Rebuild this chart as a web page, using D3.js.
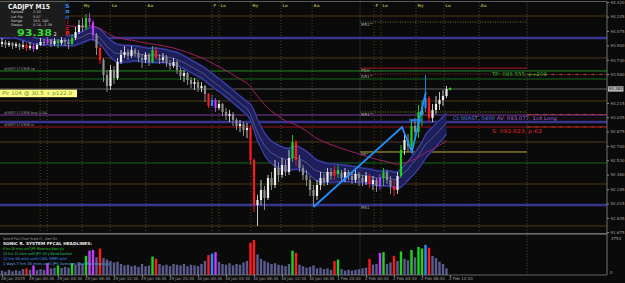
<!DOCTYPE html>
<html>
<head>
<meta charset="utf-8">
<script src="https://cdn.jsdelivr.net/npm/d3@7"></script>
<style>
html, body { margin: 0; padding: 0; background: #0a0a0a; }
svg { display: block; font-family: "DejaVu Sans", sans-serif; }
</style>
</head>
<body>
<svg width="625" height="283"></svg>
<script>
// CADJPY M15 - bars (one entry per two M15 bars)
const open0 = 93.919;
const closes = [
  93.943, 93.907, 93.931, 93.895, 93.919, 93.883, 93.907, 93.871, 93.895, 93.859,
  93.907, 93.943, 93.931, 93.967, 93.919, 93.955, 93.931, 93.967, 93.943, 93.919,
  93.990, 94.062, 94.146, 94.110, 94.229, 94.181, 94.026, 93.871, 93.728, 93.549,
  93.418, 93.609, 93.513, 93.704, 93.788, 93.823, 93.776, 93.847, 93.811, 93.752,
  93.728, 93.788, 93.704, 93.847, 93.752, 93.728, 93.764, 93.692, 93.656, 93.704,
  93.609, 93.537, 93.573, 93.489, 93.442, 93.465, 93.394, 93.418, 93.322, 93.179,
  93.250, 93.155, 93.203, 93.107, 93.060, 93.083, 93.012, 92.940, 92.964, 92.892,
  92.916, 92.534, 91.997, 92.057, 92.176, 92.081, 92.320, 92.236, 92.439, 92.355,
  92.475, 92.391, 92.558, 92.749, 92.534, 92.439, 92.355, 92.296, 92.176, 92.105,
  92.236, 92.320, 92.272, 92.391, 92.343, 92.415, 92.367, 92.320, 92.391, 92.343,
  92.296, 92.367, 92.320, 92.272, 92.343, 92.248, 92.296, 92.224, 92.320, 92.391,
  92.296, 92.224, 92.176, 92.343, 92.654, 92.773, 92.701, 92.940, 92.869, 93.107,
  93.155, 93.274, 93.036, 93.131, 93.203, 93.250, 93.298, 93.382
];
const highs = [
  93.990, 93.967, 93.955, 93.943, 93.943, 93.931, 93.955, 93.931, 93.943, 93.919,
  93.931, 93.990, 93.979, 94.002, 93.979, 93.990, 93.979, 94.014, 93.990, 93.979,
  94.038, 94.122, 94.205, 94.229, 94.277, 94.289, 94.205, 94.050, 93.907, 93.752,
  93.609, 93.668, 93.656, 93.752, 93.847, 93.895, 93.859, 93.895, 93.871, 93.847,
  93.799, 93.823, 93.811, 93.895, 93.883, 93.799, 93.811, 93.788, 93.728, 93.752,
  93.728, 93.632, 93.609, 93.585, 93.525, 93.513, 93.489, 93.465, 93.430, 93.334,
  93.310, 93.274, 93.250, 93.215, 93.155, 93.131, 93.107, 93.036, 93.012, 92.988,
  92.976, 92.952, 92.558, 92.117, 92.296, 92.224, 92.355, 92.391, 92.534, 92.511,
  92.558, 92.534, 92.654, 92.833, 92.773, 92.594, 92.475, 92.415, 92.343, 92.236,
  92.296, 92.391, 92.367, 92.439, 92.439, 92.463, 92.475, 92.415, 92.439, 92.415,
  92.391, 92.415, 92.391, 92.355, 92.391, 92.367, 92.343, 92.320, 92.367, 92.439,
  92.415, 92.343, 92.296, 92.391, 92.713, 92.869, 92.845, 93.012, 93.036, 93.191,
  93.250, 93.549, 93.298, 93.203, 93.298, 93.346, 93.370, 93.418
];
const lows = [
  93.883, 93.871, 93.883, 93.859, 93.871, 93.847, 93.859, 93.835, 93.847, 93.823,
  93.847, 93.895, 93.895, 93.907, 93.883, 93.895, 93.871, 93.907, 93.895, 93.859,
  93.907, 93.967, 94.038, 94.062, 94.086, 94.134, 93.967, 93.788, 93.680, 93.465,
  93.346, 93.370, 93.442, 93.489, 93.680, 93.752, 93.728, 93.752, 93.764, 93.704,
  93.632, 93.692, 93.656, 93.692, 93.728, 93.680, 93.692, 93.644, 93.609, 93.632,
  93.561, 93.489, 93.465, 93.430, 93.394, 93.370, 93.346, 93.346, 93.227, 93.155,
  93.179, 93.107, 93.131, 93.060, 93.012, 92.988, 92.940, 92.892, 92.869, 92.821,
  92.797, 92.475, 91.914, 91.747, 91.997, 91.938, 92.057, 92.176, 92.200, 92.272,
  92.320, 92.343, 92.355, 92.511, 92.463, 92.391, 92.296, 92.224, 92.105, 91.985,
  92.057, 92.176, 92.224, 92.236, 92.296, 92.296, 92.320, 92.272, 92.272, 92.296,
  92.248, 92.260, 92.224, 92.224, 92.236, 92.200, 92.176, 92.153, 92.176, 92.224,
  92.248, 92.129, 92.105, 92.129, 92.320, 92.594, 92.630, 92.654, 92.773, 92.797,
  92.940, 93.107, 92.988, 92.988, 93.083, 93.131, 93.179, 93.274
];
const volumes = [
  600, 450, 700, 500, 650, 550, 800, 900, 700, 1300,
  650, 800, 700, 1600, 900, 1000, 1300, 950, 1100, 1000,
  1600, 1400, 1700, 1500, 2600, 3300, 3400, 2400, 3600, 2300,
  2100, 1900, 1700, 1800, 1500, 1300, 1400, 1200, 1300, 1100,
  1500, 1200, 1300, 2500, 2200, 1500, 1300, 1400, 1200, 1500,
  1400, 1300, 1500, 1200, 1400, 1300, 1200, 1500, 1900, 2700,
  2900, 3100, 1800, 1500, 1400, 1600, 1300, 1500, 1400, 1700,
  1900, 4400, 4754, 2800, 2200, 1900, 1700, 1500, 1600, 1400,
  1300, 1200, 1500, 3300, 3000, 1400, 1200, 1000, 1100, 1300,
  900, 1000, 800, 900, 700, 1900, 2100, 800, 600, 700,
  600, 700, 800, 900, 1000, 2200, 1400, 1500, 3000, 3100,
  1500, 1700, 2600, 1900, 3200, 2200, 2000, 3400, 2400, 3800,
  3600, 4100, 3700, 2600, 2300, 1800, 1500, 900
];
const volumeMax = 4754;

// Sonic R PVA bar classes (bar indices)
const redBars = [7, 28, 44, 59, 71, 72, 84, 95, 105, 112, 122];
const greenBars = [16, 20, 24, 43, 83, 96, 109, 114, 117, 119, 120];
const magentaBars = [9, 13, 25, 26, 61, 108];
const blueBars = [60, 121];

// indicator seeds (values before the first visible bar)
const dragonPeriod = 17, dragonSeedHigh = 94.384, dragonSeedLow = 94.086, dragonSeedMid = 94.229;
const emaPeriod = 45, emaSeed = 94.444;

// horizontal levels
const brownLevels = [94.253, 93.752, 93.239, 92.749, 92.248, 91.747];
const weeklyLevels = [93.990, 92.988, 91.997];
const greenLevels = [93.501, 92.499];
const orderNames = ['tp', 'buy 0.04', 'sl'];
const orderPrices = [93.597, 93.071, 92.928];
const bidPrice = 93.382;
const tradeLevels = [93.555, 93.077, 92.928];

// pivots for the current day
const pivotNames = ['MR2^', 'PDH', 'DR1^', 'MR1^', 'PP^', 'MS1'];
const pivotPrices = [94.181, 93.632, 93.561, 93.107, 92.630, 91.997];
const dayStartBar = 102.3, dayEndBar = 150;

// session markers
const sessionBars = [10.9, 12.9, 22.9, 30.9, 41.1, 60, 62, 71.1, 79.7, 88.6, 106.3, 108.3, 118.3, 126.3, 136.3];
const sessionNames = ['F', 'Lo', 'Ny', 'Lo', 'Au', 'F', 'Lo', 'Ny', 'Lo', 'Au', 'F', 'Lo', 'Ny', 'Lo', 'Au'];

// zigzag drawn on the chart
const zigzagBars = [89, 114.3, 117.1, 121.1];
const zigzagPrices = [91.973, 92.928, 92.630, 93.346];

// axes
const priceTicks = [94.420, 94.245, 94.075, 93.900, 93.730, 93.560, 93.215, 93.045, 92.875, 92.700, 92.530, 92.360, 92.185, 92.015, 91.845, 91.675];
const timeLabels = ['28 Jan 2015', '29 Jan 00:30', '29 Jan 04:30', '29 Jan 08:30', '29 Jan 12:30', '29 Jan 16:30',
  '29 Jan 20:30', '30 Jan 00:30', '30 Jan 04:30', '30 Jan 08:30', '30 Jan 12:30', '30 Jan 16:30',
  '1 Feb 20:30', '2 Feb 00:30', '2 Feb 04:30', '2 Feb 08:30', '2 Feb 12:30'];

const infoLabels = ['Spread', 'Lot Pip', 'Range', 'Swaps'];
const infoValues = ['2.10', '5.07', '163, 140', '0.74, -1.39'];
const headlines = [
  '6 hrs 16 mins until JPY: Monetary Base y/y',
  '10 hrs 11 mins until JPY: 10-y Bond Auction',
  '12 hrs 56 mins until CAD: RMPI m/m',
  '1 days 7 hrs 16 mins until JPY: Average Cash Earnings y/y'
];

// ---------------------------------------------------------------
const svg = d3.select('svg');
const axisX = 607, paneSep = 233.8, paneBottom = 275, boxW = 66, boxH = 37;

const x = d3.scaleLinear().domain([0, 127]).range([2, 446.5]);
const y = d3.scaleLinear().domain([91.675, 94.420]).range([232, 2]);
const yVol = d3.scaleLinear().domain([0, volumeMax]).range([paneBottom, 240]);

svg.append('rect').attr('width', 625).attr('height', 283).attr('fill', '#0a0a0a');

const defs = svg.append('defs');
defs.append('clipPath').attr('id', 'mainClip').append('rect')
  .attr('x', 0).attr('y', 1.5).attr('width', axisX).attr('height', paneSep - 1.5);
defs.append('clipPath').attr('id', 'volClip').append('rect')
  .attr('x', 0).attr('y', paneSep).attr('width', axisX).attr('height', paneBottom - paneSep);

const main = svg.append('g').attr('clip-path', 'url(#mainClip)');
const pane = svg.append('g').attr('clip-path', 'url(#volClip)');

function hline(g, price, x0, x1, color, w, dash) {
  g.append('line')
    .attr('x1', x0).attr('x2', x1)
    .attr('y1', y(price)).attr('y2', y(price))
    .attr('stroke', color).attr('stroke-width', w)
    .attr('stroke-dasharray', dash || null);
}

// session verticals (labels under the info box are hidden there)
sessionBars.forEach((b, k) => {
  main.append('line').attr('x1', x(b)).attr('x2', x(b)).attr('y1', 2).attr('y2', paneSep)
    .attr('stroke', '#5a5a22').attr('stroke-width', 0.8).attr('stroke-dasharray', '1,2');
  if (x(b) > boxW + 4) {
    main.append('text').attr('x', x(b) + 1.5).attr('y', 6.5)
      .attr('font-size', 4).attr('font-weight', 'bold').attr('fill', '#9c9c3a').text(sessionNames[k]);
  }
});
// day separators
[dayStartBar, dayEndBar].forEach(b => {
  svg.append('line').attr('x1', x(b)).attr('x2', x(b)).attr('y1', 1.5).attr('y2', paneBottom)
    .attr('stroke', '#666').attr('stroke-width', 0.8).attr('stroke-dasharray', '1,2');
});

// levels
brownLevels.forEach(p => hline(main, p, 0, axisX, '#4f3a14', 1));
greenLevels.forEach(p => hline(main, p, 0, axisX, '#17641a', 1));
weeklyLevels.forEach(p => hline(main, p, 0, axisX, '#38358e', 2.4));
hline(main, bidPrice, 0, axisX, '#6a6a6a', 0.9);
const orderColors = ['#1f8a22', '#7c3aa2', '#9a1414'];
orderPrices.forEach((p, k) => hline(main, p, 0, axisX, orderColors[k], 1));
tradeLevels.forEach(p => hline(main, p, x(dayEndBar), axisX, '#c8401e', 0.9, '4,1.5,1,1.5'));

// pivots
const pivotStyle = {
  'MR2^': ['#8a8a50', 0.8, '1,1.5'],
  'PDH': ['#8a1414', 1.2, null],
  'DR1^': ['#b02a1e', 0.9, '1,1.5'],
  'MR1^': ['#9a9a30', 0.8, '1,1.5'],
  'PP^': ['#b8ae2c', 1, null],
  'MS1': ['#38358e', 0, null]
};
pivotNames.forEach((n, k) => {
  const s = pivotStyle[n];
  if (s[1] > 0) hline(main, pivotPrices[k], x(dayStartBar), x(dayEndBar), s[0], s[1], s[2]);
  main.append('text').attr('x', x(dayStartBar) + 1).attr('y', y(pivotPrices[k]) + 3.8)
    .attr('font-size', 4).attr('fill', '#a8a8a8').text(n);
});

// dragon band and slow EMA
function ema(values, period, seed) {
  const a = 2 / (period + 1);
  let e = seed;
  return values.map(v => (e = e + a * (v - e)));
}
const dHigh = ema(highs, dragonPeriod, dragonSeedHigh);
const dLow = ema(lows, dragonPeriod, dragonSeedLow);
const dMid = ema(closes, dragonPeriod, dragonSeedMid);
const slow = ema(closes, emaPeriod, emaSeed);

main.append('path').datum(d3.range(closes.length))
  .attr('d', d3.area().x(i => x(i)).y0(i => y(dLow[i]) + 1.5).y1(i => y(dHigh[i]) - 1.5))
  .attr('fill', '#1d1f5a');
const edge = d3.line().x(i => x(i));
[dHigh, dLow].forEach(arr => {
  main.append('path').datum(d3.range(closes.length))
    .attr('d', edge.y(i => y(arr[i])))
    .attr('fill', 'none').attr('stroke', '#4043a8').attr('stroke-width', 1.1);
});
main.append('path').datum(d3.range(closes.length))
  .attr('d', d3.line().x(i => x(i)).y(i => y(dMid[i])))
  .attr('fill', 'none').attr('stroke', '#8c8cb4').attr('stroke-width', 0.5);
main.append('path').datum(d3.range(closes.length))
  .attr('d', d3.line().x(i => x(i)).y(i => y(slow[i])))
  .attr('fill', 'none').attr('stroke', '#9e1f66').attr('stroke-width', 1);

// candles
function pvaColor(i) {
  if (redBars.includes(i)) return '#ff1a1a';
  if (greenBars.includes(i)) return '#1ed21e';
  if (magentaBars.includes(i)) return '#c43cff';
  if (blueBars.includes(i)) return '#2a8cff';
  return null;
}
const bars = closes.map((c, i) => {
  const o = i ? closes[i - 1] : open0;
  return { i, o, c, h: Math.max(highs[i], o, c), l: Math.min(lows[i], o, c), v: volumes[i] };
});
const candle = main.selectAll('g.candle').data(bars).join('g').attr('class', 'candle');
candle.append('line')
  .attr('x1', d => x(d.i)).attr('x2', d => x(d.i))
  .attr('y1', d => y(d.h)).attr('y2', d => y(d.l))
  .attr('stroke', d => pvaColor(d.i) || (d.c >= d.o ? '#d8d8d8' : '#9a9a9a'))
  .attr('stroke-width', 0.9);
candle.append('rect')
  .attr('x', d => x(d.i) - 1.1).attr('width', 2.2)
  .attr('y', d => y(Math.max(d.o, d.c)))
  .attr('height', d => Math.max(0.8, Math.abs(y(d.o) - y(d.c))))
  .attr('fill', d => pvaColor(d.i) || (d.c >= d.o ? '#ececec' : '#8e8e8e'));

// zigzag and markers
main.append('path').datum(zigzagBars.map((b, k) => [b, zigzagPrices[k]]))
  .attr('d', d3.line().x(d => x(d[0])).y(d => y(d[1])))
  .attr('fill', 'none').attr('stroke', '#1e90ff').attr('stroke-width', 1.8);
main.append('line').attr('x1', x(116.4)).attr('x2', x(120)).attr('y1', y(93.012)).attr('y2', y(93.012))
  .attr('stroke', '#1e90ff').attr('stroke-width', 1.5);
main.append('circle').attr('cx', x(120)).attr('cy', y(93.095)).attr('r', 1.4)
  .attr('fill', 'none').attr('stroke', '#6ab4ff').attr('stroke-width', 0.7);
main.append('path').attr('d', `M${x(128) - 1.5},${y(bidPrice)}h3M${x(128)},${y(bidPrice) - 1.5}v3`)
  .attr('stroke', '#22ff22').attr('stroke-width', 0.9);

// order labels (left)
orderNames.forEach((n, k) => {
  main.append('text').attr('x', 4).attr('y', y(orderPrices[k]) - 1.2)
    .attr('font-size', 3.6).attr('fill', '#9a9a9a').text('#5837175306 ' + n);
});
main.append('rect').attr('x', 0).attr('y', 89.6).attr('width', 77).attr('height', 7.6).attr('fill', '#ffff86');
main.append('text').attr('x', 2).attr('y', 95.3).attr('font-size', 5.2).attr('fill', '#5a8a28')
  .attr('textLength', 70).attr('lengthAdjust', 'spacingAndGlyphs').text('Plr 104 @ 30.5 + p122.0');

// trade texts (right)
main.append('text').attr('x', 492).attr('y', y(tradeLevels[0]) + 1.8).attr('font-size', 5)
  .attr('fill', '#2eb82e').attr('textLength', 55).attr('lengthAdjust', 'spacingAndGlyphs')
  .text('TP: 093.555, p+209');
const av = main.append('text').attr('x', 453).attr('y', 120.3).attr('font-size', 5)
  .attr('textLength', 104).attr('lengthAdjust', 'spacingAndGlyphs');
av.append('tspan').attr('fill', '#5c7ee6').text('Ct:00AST, 0400  ');
av.append('tspan').attr('fill', '#b466dc').text('AV: 093.077, 1c4 Long');
main.append('text').attr('x', 492).attr('y', 132.8).attr('font-size', 5)
  .attr('fill', '#e02828').attr('textLength', 50).attr('lengthAdjust', 'spacingAndGlyphs')
  .text('S: 092.823, p-62');

// info box
const info = svg.append('g');
info.append('rect').attr('x', 0).attr('y', 0).attr('width', boxW).attr('height', boxH).attr('fill', '#1c1c1c');
info.append('text').attr('x', 8).attr('y', 8.5).attr('font-size', 7).attr('font-weight', 'bold')
  .attr('fill', '#f2f2f2').attr('textLength', 42).attr('lengthAdjust', 'spacingAndGlyphs').text('CADJPY  M15');
infoLabels.forEach((t, k) => {
  info.append('text').attr('x', 11).attr('y', 13.3 + k * 4.3).attr('font-size', 3.5).attr('fill', '#c4c4c4').text(t);
  info.append('text').attr('x', 33).attr('y', 13.3 + k * 4.3).attr('font-size', 3.5).attr('fill', '#c4c4c4').text(infoValues[k]);
});
info.append('text').attr('x', 17).attr('y', 35.5).attr('font-size', 9).attr('font-weight', 'bold')
  .attr('fill', '#33dd33').attr('textLength', 35).attr('lengthAdjust', 'spacingAndGlyphs').text('93.38');
info.append('text').attr('x', 53.5).attr('y', 35.5).attr('font-size', 5).attr('fill', '#e0e0e0').text('2');
const sonic = ['S', 'o', 'n', 'i', 'c', 'R'];
const sonicColors = ['#1e90ff', '#2e8ef0', '#1f5fb8', '#b01c1c', '#e02020', '#ff2020'];
sonic.forEach((ch, k) => {
  svg.append('text').attr('x', 67.5).attr('y', 7.6 + k * 5.5).attr('text-anchor', 'middle')
    .attr('font-size', 6).attr('font-weight', 'bold').attr('fill', sonicColors[k]).text(ch);
});

// volume pane (Sonic R PVA)
pane.selectAll('rect.vol').data(bars).join('rect').attr('class', 'vol')
  .attr('x', d => x(d.i) - 1.2).attr('width', 2.4)
  .attr('y', d => yVol(d.v)).attr('height', d => paneBottom - yVol(d.v))
  .attr('fill', d => pvaColor(d.i) || '#5b5b8e');
pane.append('text').attr('x', 3).attr('y', 239.5).attr('font-size', 3.6).attr('fill', '#a8a8a8')
  .attr('textLength', 54).attr('lengthAdjust', 'spacingAndGlyphs').text('SonicR PVA (Chart Scale 2) - Alert On');
pane.append('text').attr('x', 3).attr('y', 244.8).attr('font-size', 4).attr('font-weight', 'bold').attr('fill', '#f0f0f0')
  .attr('textLength', 89).attr('lengthAdjust', 'spacingAndGlyphs').text('SONIC R. SYSTEM  FFCAL HEADLINES:');
const headColors = ['#2ecc2e', '#2ec47a', '#3a96ff', '#5aa8e0'];
const headLens = [61, 69, 64, 107];
headlines.forEach((t, k) => {
  pane.append('text').attr('x', 3).attr('y', 250.3 + k * 5).attr('font-size', 3.8).attr('fill', headColors[k])
    .attr('textLength', headLens[k]).attr('lengthAdjust', 'spacingAndGlyphs').text(t);
});

// frame and axes
svg.append('line').attr('x1', 0).attr('x2', axisX).attr('y1', 1.5).attr('y2', 1.5).attr('stroke', '#6e6e6e').attr('stroke-width', 0.8);
svg.append('line').attr('x1', 0).attr('x2', axisX).attr('y1', paneSep).attr('y2', paneSep).attr('stroke', '#8a8a8a').attr('stroke-width', 1.2);
svg.append('line').attr('x1', 0).attr('x2', axisX).attr('y1', paneBottom).attr('y2', paneBottom).attr('stroke', '#7a7a7a').attr('stroke-width', 0.8);
svg.append('line').attr('x1', axisX).attr('x2', axisX).attr('y1', 1.5).attr('y2', paneBottom).attr('stroke', '#8a8a8a').attr('stroke-width', 0.8);

const yAxis = svg.append('g').attr('transform', `translate(${axisX},0)`)
  .call(d3.axisRight(y).tickValues(priceTicks).tickFormat(d3.format('.3f')).tickSize(2).tickSizeOuter(0).tickPadding(1.5));
yAxis.select('.domain').remove();
yAxis.selectAll('line').attr('stroke', '#8a8a8a');
yAxis.selectAll('text').attr('font-size', 4).attr('fill', '#a0a0a0').attr('font-family', '"DejaVu Sans", sans-serif');

svg.append('rect').attr('x', axisX + 1).attr('y', y(bidPrice) - 2.7).attr('width', 15.5).attr('height', 5.4).attr('fill', '#b4b4b4');
svg.append('text').attr('x', axisX + 1.8).attr('y', y(bidPrice) + 1.4).attr('font-size', 4).attr('fill', '#111').text(bidPrice.toFixed(3));

svg.append('text').attr('x', 611).attr('y', 239.5).attr('font-size', 4).attr('fill', '#a0a0a0').text(String(volumeMax));
svg.append('text').attr('x', 610).attr('y', 273.5).attr('font-size', 4).attr('fill', '#a0a0a0').text('0');

const xAxis = svg.append('g').attr('transform', `translate(0,${paneBottom})`)
  .call(d3.axisBottom(x).tickValues(d3.range(0, 129, 8)).tickFormat((d, i) => timeLabels[i]).tickSize(2).tickSizeOuter(0).tickPadding(0.5));
xAxis.select('.domain').remove();
xAxis.selectAll('line').attr('stroke', '#7a7a7a');
xAxis.selectAll('text').attr('font-size', 4).attr('fill', '#a0a0a0').attr('text-anchor', 'start')
  .attr('dx', -1.5).attr('font-family', '"DejaVu Sans", sans-serif');
</script>
</body>
</html>
